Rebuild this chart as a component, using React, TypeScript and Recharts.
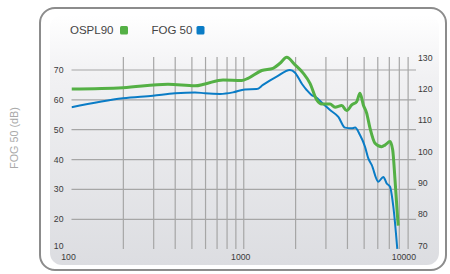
import React from 'react';
import { LineChart, Line, XAxis, YAxis, ReferenceLine } from 'recharts';

const ospl90Freq = [100, 199, 363, 521, 596, 758, 973, 1059, 1271, 1478, 1623, 1775, 1985, 2218, 2425, 2653, 2837, 3169, 3387, 3706, 3961, 4236, 4528, 4731, 4945, 5170, 5407, 5780, 6323, 6609, 7065, 7324, 7554, 7787, 7887];
const ospl90Db = [120.0, 120.4, 121.5, 121.0, 121.6, 122.9, 122.7, 123.4, 125.9, 126.6, 128.2, 130.1, 127.7, 125.0, 121.8, 116.5, 115.2, 115.2, 114.2, 114.7, 113.1, 114.9, 116.0, 118.6, 114.9, 112.3, 107.5, 102.7, 101.6, 102.1, 103.2, 100.5, 91.0, 80.3, 76.4];

const fog50Freq = [100, 199, 297, 399, 521, 596, 728, 866, 1016, 1189, 1293, 1553, 1855, 1985, 2179, 2319, 2479, 2592, 2897, 3169, 3541, 3872, 4236, 4427, 4731, 5058, 5286, 5530, 6042, 6460, 6760, 7065, 7386, 7787];
const fog50Db = [57.5, 60.5, 61.4, 62.2, 62.5, 62.2, 62.0, 62.5, 63.5, 63.6, 65.0, 67.75, 70.0, 69.1, 65.3, 63.3, 61.6, 61.05, 58.6, 56.6, 54.3, 50.7, 50.5, 50.7, 48.2, 44.3, 40.4, 38.2, 32.6, 34.2, 32.0, 30.9, 24.2, 10.1];

const xTicks = [100, 1000, 10000];
const gridFreqs = [200, 300, 400, 500, 600, 700, 800, 900, 1000, 2000, 3000, 4000, 5000, 6000, 7000, 8000, 9000];
const leftTicks = [10, 20, 30, 40, 50, 60, 70];
const leftGrid = [20, 30, 40, 50, 60, 70];
const rightTicks = [70, 80, 90, 100, 110, 120, 130];

const GREEN = '#54b045';
const BLUE = '#0a7cc6';
const FONT = '"Liberation Sans", Arial, sans-serif';

const osplData = ospl90Freq.map((f, i) => ({ f, db: ospl90Db[i] }));
const fogData = fog50Freq.map((f, i) => ({ f, db: fog50Db[i] }));

const XTick = (props: any) => {
  const { x, y, payload } = props;
  const last = payload.value === 10000;
  return (
    <text x={x} y={y} dx={last ? 0 : -3} dy="0.71em" textAnchor={last ? 'end' : 'middle'}
      fontSize={8.7} fill="#3a3a3a" fontFamily={FONT}>
      {payload.value}
    </text>
  );
};

const LTick = (props: any) => {
  const { x, y, payload } = props;
  return (
    <text x={x} y={y} dy={payload.value === 10 ? -0.5 : 3} textAnchor="end"
      fontSize={8.7} fill="#3a3a3a" fontFamily={FONT}>
      {payload.value}
    </text>
  );
};

const RTick = (props: any) => {
  const { x, y, payload } = props;
  return (
    <text x={x} y={y} dy={3} textAnchor="start"
      fontSize={8.7} fill="#3a3a3a" fontFamily={FONT}>
      {payload.value}
    </text>
  );
};

export default function App() {
  return (
    <div style={{ position: 'absolute', left: 0, top: 0, width: 450, height: 274, background: '#fff', fontFamily: FONT }}>
      <div style={{ position: 'absolute', left: 39, top: 7, width: 408, height: 264, boxSizing: 'border-box', border: '2.5px solid #8c8c8c', borderRadius: 16, background: '#fff' }} />
      <div style={{ position: 'absolute', left: 50, top: 15, width: 389, height: 250, borderRadius: 12, background: 'linear-gradient(#ffffff 0%, #f1f1f3 25%, #dcdde1 100%)' }} />
      <svg width={450} height={274} style={{ position: 'absolute', left: 0, top: 0 }}>
        <text x={14.5} y={138} transform="rotate(-90 14.5 138)" textAnchor="middle" dy="0.36em"
          fontSize={10.8} fill="#a9a9a9" fontFamily={FONT}>FOG 50 (dB)</text>
        <text x={70} y={34.3} fontSize={11.5} fill="#444" fontFamily={FONT}>OSPL90</text>
        <rect x={120} y={26} width={8} height={8.5} rx={1.5} fill={GREEN} />
        <text x={151.5} y={34.3} fontSize={11.5} fill="#444" fontFamily={FONT}>FOG 50</text>
        <rect x={196.5} y={26} width={8} height={8.5} rx={1.5} fill={BLUE} />
      </svg>
      <div style={{ position: 'absolute', left: 0, top: 0 }}>
        <LineChart width={450} height={274} margin={{ top: 57, right: 4, bottom: 9, left: 41.5 }}>
          <XAxis dataKey="f" type="number" scale="log" domain={[100, 10000]} ticks={xTicks}
            axisLine={false} tickLine={false} tickSize={0} tickMargin={4.5} height={16} tick={<XTick />} allowDataOverflow />
          <YAxis yAxisId="left" type="number" domain={[10.05, 74.35]} ticks={leftTicks}
            axisLine={false} tickLine={false} width={30} tick={<LTick />} allowDataOverflow={false} />
          <YAxis yAxisId="right" orientation="right" type="number" domain={[68.94, 130.2]} ticks={rightTicks}
            axisLine={false} tickLine={false} tickSize={0} tickMargin={2} width={30} tick={<RTick />} />
          {gridFreqs.map((g) => (
            <ReferenceLine key={'v' + g} x={g} yAxisId="left" stroke="#a6a6a6" strokeWidth={1.2} />
          ))}
          {leftGrid.map((g) => (
            <ReferenceLine key={'h' + g} y={g} yAxisId="left" stroke="#a6a6a6" strokeWidth={1.2} />
          ))}
          <Line data={fogData} dataKey="db" yAxisId="left" type="monotone" stroke={BLUE} strokeWidth={2}
            dot={false} isAnimationActive={false} />
          <Line data={osplData} dataKey="db" yAxisId="right" type="monotone" stroke={GREEN} strokeWidth={3}
            dot={false} isAnimationActive={false} />
        </LineChart>
      </div>
    </div>
  );
}
